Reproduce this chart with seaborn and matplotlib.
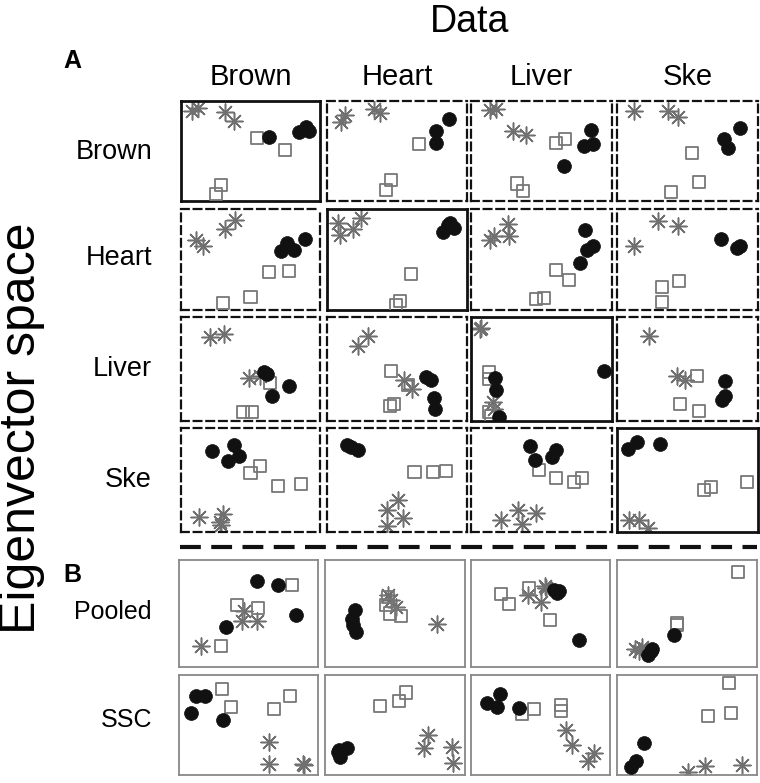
import numpy as np
import matplotlib
matplotlib.use("Agg")
import matplotlib.pyplot as plt
from matplotlib.lines import Line2D
import seaborn as sns

sns.set_style("white")
plt.rcParams['font.family'] = ['Liberation Sans', 'DejaVu Sans']

col_names = ['Brown', 'Heart', 'Liver', 'Ske']
row_names = ['Brown', 'Heart', 'Liver', 'Ske', 'Pooled', 'SSC']

# points per row: one list per data column (Brown, Heart, Liver, Ske), axes scaled 0..1
brown_circles = [[(0.63, 0.64), (0.85, 0.69), (0.90, 0.74), (0.92, 0.70)],
                 [(0.87, 0.82), (0.78, 0.70), (0.78, 0.58)],
                 [(0.85, 0.71), (0.80, 0.55), (0.865, 0.57), (0.66, 0.35)],
                 [(0.87, 0.73), (0.76, 0.62), (0.79, 0.53)]]
brown_squares = [[(0.55, 0.63), (0.75, 0.51), (0.29, 0.16), (0.25, 0.07)],
                 [(0.66, 0.57), (0.46, 0.21), (0.42, 0.11)],
                 [(0.60, 0.58), (0.67, 0.62), (0.325, 0.175), (0.37, 0.10)],
                 [(0.53, 0.48), (0.585, 0.19), (0.38, 0.09)]]
brown_stars = [[(0.077, 0.90), (0.12, 0.93), (0.32, 0.89), (0.38, 0.80)],
               [(0.125, 0.86), (0.10, 0.79), (0.335, 0.92), (0.375, 0.88)],
               [(0.135, 0.91), (0.175, 0.92), (0.30, 0.70), (0.39, 0.66)],
               [(0.12, 0.90), (0.36, 0.90), (0.43, 0.84)]]

heart_circles = [[(0.76, 0.66), (0.72, 0.58), (0.815, 0.59), (0.89, 0.70)],
                 [(0.865, 0.84), (0.83, 0.77), (0.91, 0.81), (0.88, 0.86)],
                 [(0.81, 0.79), (0.825, 0.59), (0.865, 0.63), (0.77, 0.47)],
                 [(0.74, 0.70), (0.85, 0.61), (0.87, 0.63)]]
heart_squares = [[(0.63, 0.38), (0.78, 0.39), (0.50, 0.13), (0.30, 0.07)],
                 [(0.60, 0.355), (0.52, 0.09), (0.49, 0.05)],
                 [(0.60, 0.40), (0.695, 0.30), (0.46, 0.11), (0.52, 0.12)],
                 [(0.32, 0.23), (0.44, 0.29), (0.32, 0.08)]]
heart_stars = [[(0.105, 0.69), (0.16, 0.63), (0.32, 0.80), (0.39, 0.89)],
               [(0.08, 0.86), (0.095, 0.745), (0.185, 0.80), (0.245, 0.91)],
               [(0.135, 0.69), (0.165, 0.73), (0.265, 0.85), (0.27, 0.73)],
               [(0.12, 0.63), (0.29, 0.88), (0.435, 0.83)]]

liver_circles = [[(0.60, 0.47), (0.62, 0.45), (0.78, 0.335), (0.655, 0.24)],
                 [(0.71, 0.42), (0.74, 0.39), (0.765, 0.22), (0.77, 0.12)],
                 [(0.945, 0.48), (0.17, 0.41), (0.18, 0.30), (0.20, 0.04)],
                 [(0.765, 0.38), (0.765, 0.24), (0.745, 0.20)]]
liver_squares = [[(0.64, 0.37), (0.445, 0.09), (0.51, 0.09)],
                 [(0.46, 0.48), (0.58, 0.35), (0.45, 0.14), (0.48, 0.16)],
                 [(0.125, 0.47), (0.125, 0.40), (0.13, 0.09), (0.14, 0.05)],
                 [(0.57, 0.435), (0.45, 0.16), (0.585, 0.10)]]
liver_stars = [[(0.21, 0.81), (0.31, 0.84), (0.49, 0.41), (0.57, 0.43)],
               [(0.22, 0.725), (0.295, 0.815), (0.55, 0.39), (0.61, 0.31)],
               [(0.065, 0.88), (0.155, 0.18), (0.16, 0.12), (0.07, 0.89)],
               [(0.23, 0.82), (0.425, 0.435), (0.485, 0.39)]]

ske_circles = [[(0.22, 0.78), (0.38, 0.84), (0.34, 0.68), (0.42, 0.73)],
               [(0.14, 0.84), (0.17, 0.82), (0.22, 0.79)],
               [(0.42, 0.83), (0.455, 0.69), (0.575, 0.72), (0.60, 0.79)],
               [(0.075, 0.80), (0.14, 0.87), (0.305, 0.85)]]
ske_squares = [[(0.50, 0.57), (0.565, 0.635), (0.70, 0.44), (0.86, 0.46)],
               [(0.625, 0.575), (0.76, 0.575), (0.85, 0.59)],
               [(0.48, 0.60), (0.60, 0.52), (0.73, 0.48), (0.79, 0.52)],
               [(0.62, 0.40), (0.67, 0.43), (0.925, 0.48)]]
ske_stars = [[(0.13, 0.145), (0.30, 0.17), (0.28, 0.10), (0.29, 0.065)],
             [(0.425, 0.215), (0.51, 0.31), (0.545, 0.13), (0.425, 0.055)],
             [(0.215, 0.12), (0.33, 0.21), (0.46, 0.18), (0.365, 0.075)],
             [(0.085, 0.12), (0.155, 0.12), (0.22, 0.04)]]

pooled_circles = [[(0.56, 0.80), (0.71, 0.77), (0.845, 0.49), (0.34, 0.375)],
                  [(0.215, 0.53), (0.195, 0.45), (0.20, 0.39), (0.22, 0.33)],
                  [(0.60, 0.72), (0.635, 0.71), (0.62, 0.69), (0.78, 0.25)],
                  [(0.41, 0.30), (0.25, 0.17), (0.22, 0.11), (0.24, 0.15)]]
pooled_squares = [[(0.81, 0.77), (0.42, 0.58), (0.57, 0.55), (0.30, 0.20)],
                  [(0.435, 0.58), (0.465, 0.50), (0.54, 0.48), (0.45, 0.65)],
                  [(0.215, 0.68), (0.27, 0.59), (0.42, 0.74), (0.57, 0.44)],
                  [(0.865, 0.89), (0.43, 0.41), (0.43, 0.39)]]
pooled_stars = [[(0.16, 0.20), (0.45, 0.43), (0.56, 0.43), (0.47, 0.52)],
                [(0.45, 0.67), (0.51, 0.56), (0.80, 0.40), (0.47, 0.63)],
                [(0.53, 0.76), (0.41, 0.67), (0.50, 0.61), (0.54, 0.74)],
                [(0.13, 0.17), (0.18, 0.19), (0.16, 0.15)]]

ssc_circles = [[(0.125, 0.79), (0.19, 0.79), (0.085, 0.62), (0.32, 0.55)],
               [(0.095, 0.23), (0.16, 0.27), (0.11, 0.18), (0.10, 0.25)],
               [(0.113, 0.72), (0.21, 0.81), (0.19, 0.68), (0.345, 0.67)],
               [(0.19, 0.32), (0.135, 0.14), (0.10, 0.08)]]
ssc_squares = [[(0.31, 0.86), (0.375, 0.68), (0.68, 0.66), (0.80, 0.79)],
               [(0.39, 0.69), (0.53, 0.74), (0.58, 0.825)],
               [(0.365, 0.61), (0.455, 0.66), (0.65, 0.70), (0.65, 0.64)],
               [(0.80, 0.92), (0.65, 0.59), (0.815, 0.62)]]
ssc_stars = [[(0.65, 0.33), (0.65, 0.11), (0.90, 0.105), (0.89, 0.115)],
             [(0.735, 0.40), (0.71, 0.27), (0.91, 0.28), (0.915, 0.12)],
             [(0.68, 0.45), (0.725, 0.30), (0.885, 0.225), (0.84, 0.14)],
             [(0.505, 0.03), (0.63, 0.09), (0.89, 0.105)]]

rows = [(brown_circles, brown_squares, brown_stars),
        (heart_circles, heart_squares, heart_stars),
        (liver_circles, liver_squares, liver_stars),
        (ske_circles, ske_squares, ske_stars),
        (pooled_circles, pooled_squares, pooled_stars),
        (ssc_circles, ssc_squares, ssc_stars)]

W, H = 760, 783
fig = plt.figure(figsize=(W / 100, H / 100), dpi=100)

# panel boxes in pixels
cols_a = [(181, 320), (327, 467), (471, 612), (617, 758)]
cols_b = [(179, 318), (325, 465), (471, 610), (617, 757)]
rows_y = [(101, 201), (209, 310), (317, 421), (428, 532), (560, 667), (675, 775)]


def px_axes(x0, x1, y0, y1):
    return fig.add_axes([x0 / W, 1 - y1 / H, (x1 - x0) / W, (y1 - y0) / H])


for r, (circ, sq, st) in enumerate(rows):
    cols = cols_a if r < 4 else cols_b
    for c in range(4):
        ax = px_axes(cols[c][0], cols[c][1], rows_y[r][0], rows_y[r][1])
        sx, sy = zip(*st[c])
        sns.scatterplot(x=list(sx), y=list(sy), marker=(8, 2, 0), s=150,
                        color='#707070', linewidth=1.1, ax=ax, zorder=2)
        qx, qy = zip(*sq[c])
        sns.scatterplot(x=list(qx), y=list(qy), marker='s', s=75,
                        facecolor='none', edgecolor='#777777', linewidth=1.3,
                        ax=ax, zorder=3)
        cx, cy = zip(*circ[c])
        sns.scatterplot(x=list(cx), y=list(cy), marker='o', s=100,
                        color='#111111', edgecolor='#111111', linewidth=0.5,
                        ax=ax, zorder=4)
        ax.set_xlim(0, 1)
        ax.set_ylim(0, 1)
        ax.set_xticks([])
        ax.set_yticks([])
        ax.set_xlabel('')
        ax.set_ylabel('')
        for sp in ax.spines.values():
            if r >= 4:
                sp.set_color('#888888')
                sp.set_linewidth(1.3)
            elif r == c:
                sp.set_color('#111111')
                sp.set_linewidth(2.0)
            else:
                sp.set_color('#111111')
                sp.set_linewidth(1.6)
                sp.set_linestyle((0, (3.5, 2.2)))

# texts
fig.text(470 / W, 1 - 22 / H, 'Data', ha='center', va='center', fontsize=27, color='black')
fig.text(72 / W, 1 - 61 / H, 'A', ha='center', va='center', fontsize=18,
         fontweight='bold', color='black')
fig.text(72 / W, 1 - 575 / H, 'B', ha='center', va='center', fontsize=18,
         fontweight='bold', color='black')
for c, name in enumerate(col_names):
    xc = (cols_a[c][0] + cols_a[c][1]) / 2
    fig.text(xc / W, 1 - 77 / H, name, ha='center', va='center', fontsize=21, color='black')
label_y = [152, 258, 369, 480, 612, 720]
label_size = [19.5, 19.5, 19.5, 19.5, 18, 18]
for r, name in enumerate(row_names):
    fig.text(152 / W, 1 - label_y[r] / H, name, ha='right', va='center',
             fontsize=label_size[r], color='black')
fig.text(22 / W, 1 - 428 / H, 'Eigenvector space', ha='center', va='center',
         rotation=90, fontsize=36, color='black')

# separator between A and B
fig.add_artist(Line2D([180 / W, 757 / W], [1 - 547 / H, 1 - 547 / H],
                      color='#111111', linewidth=3, linestyle=(0, (5, 2.5))))

fig.savefig('out.png', dpi=100)
